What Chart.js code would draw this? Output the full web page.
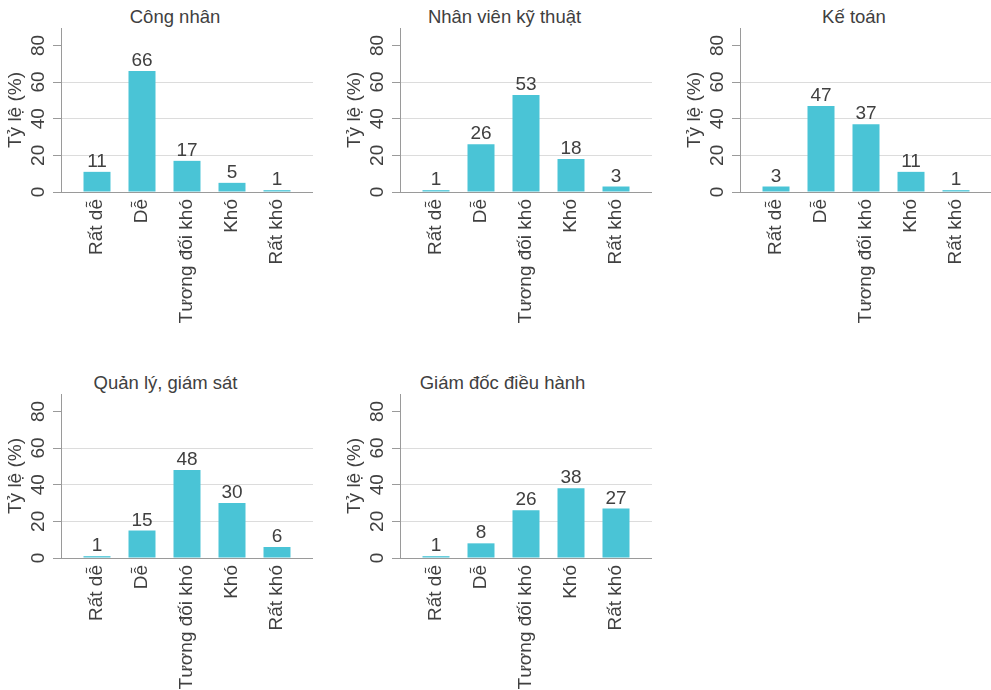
<!DOCTYPE html>
<html>
<head>
<meta charset="utf-8">
<script src="https://cdn.jsdelivr.net/npm/chart.js@4.4.1/dist/chart.umd.min.js"></script>
<style>
  html, body { margin: 0; padding: 0; background: #ffffff; width: 991px; height: 690px; overflow: hidden; }
  .panel { position: absolute; width: 313px; height: 340px; }
  .ptitle { position: absolute; font-family: "Liberation Sans", Arial, sans-serif; font-size: 18.5px; line-height: 18px;
            color: #404040; white-space: nowrap; transform: translateX(-50%); }
</style>
</head>
<body>
<script>
// ---- data ----
const categories = ['Rất dễ', 'Dễ', 'Tương đối khó', 'Khó', 'Rất khó'];
const panelTitles = ['Công nhân', 'Nhân viên kỹ thuật', 'Kế toán', 'Quản lý, giám sát', 'Giám đốc điều hành'];
const congNhan = [11, 66, 17, 5, 1];
const nhanVienKyThuat = [1, 26, 53, 18, 3];
const keToan = [3, 47, 37, 11, 1];
const quanLyGiamSat = [1, 15, 48, 30, 6];
const giamDocDieuHanh = [1, 8, 26, 38, 27];
const yTicks = [0, 20, 40, 60, 80];
const yAxisTitle = 'Tỷ lệ (%)';

// ---- style / layout ----
const FONT = '"Liberation Sans", Arial, sans-serif';
const TEXT = '#404040';
const AXIS = '#9a9a9a';
const GRID = '#dcdcdc';
const BAR = '#4AC4D6';
const FS = 19;

const seriesList = [congNhan, nhanVienKyThuat, keToan, quanLyGiamSat, giamDocDieuHanh];
const layout = [
  { left: 0,   top: 0,   titleX: 175,   titleTop: 8 },
  { left: 339, top: 0,   titleX: 504.5, titleTop: 8 },
  { left: 679, top: 0,   titleX: 854,   titleTop: 8 },
  { left: 0,   top: 366, titleX: 165.5, titleTop: 374 },
  { left: 339, top: 366, titleX: 502.5, titleTop: 374 }
];

const valueLabels = {
  id: 'valueLabels',
  afterDatasetsDraw(chart) {
    const ctx = chart.ctx;
    const meta = chart.getDatasetMeta(0);
    const data = chart.data.datasets[0].data;
    ctx.save();
    ctx.font = FS + 'px ' + FONT;
    ctx.fillStyle = TEXT;
    ctx.textAlign = 'center';
    ctx.textBaseline = 'alphabetic';
    meta.data.forEach((el, i) => {
      ctx.fillText(String(data[i].y), el.x, el.y - 5);
    });
    ctx.restore();
  }
};

seriesList.forEach((values, p) => {
  const L = layout[p];
  const t = document.createElement('div');
  t.className = 'ptitle';
  t.style.left = L.titleX + 'px';
  t.style.top = L.titleTop + 'px';
  t.textContent = panelTitles[p];
  document.body.appendChild(t);

  const c = document.createElement('canvas');
  c.className = 'panel';
  c.width = 313; c.height = 340;
  c.style.left = L.left + 'px';
  c.style.top = L.top + 'px';
  document.body.appendChild(c);

  new Chart(c, {
    type: 'bar',
    data: {
      datasets: [{
        data: values.map((v, i) => ({ x: i, y: v })),
        backgroundColor: BAR,
        borderWidth: 0,
        barPercentage: 0.6,
        categoryPercentage: 1
      }]
    },
    options: {
      responsive: false,
      animation: false,
      layout: { padding: { top: 28, left: 0, right: 0, bottom: 0 } },
      plugins: { legend: { display: false }, tooltip: { enabled: false }, title: { display: false } },
      scales: {
        x: {
          type: 'linear', min: -0.8, max: 4.8, offset: false,
          afterBuildTicks: s => { s.ticks = categories.map((c, i) => ({ value: i })); },
          afterFit: s => { s.height = 148; },
          grid: { display: false, drawTicks: false },
          border: { display: true, color: AXIS, width: 1 },
          ticks: {
            autoSkip: false, minRotation: 90, maxRotation: 90, padding: 7, color: TEXT,
            font: { family: FONT, size: FS },
            callback: v => categories[v]
          }
        },
        y: {
          min: 0, max: 89.5,
          afterBuildTicks: s => { s.ticks = yTicks.map(v => ({ value: v })); },
          afterFit: s => { s.width = 61; },
          grid: {
            color: ctx => (ctx.tick && ctx.tick.value > 0 && ctx.tick.value < 80) ? GRID : 'rgba(0,0,0,0)',
            tickColor: AXIS, tickLength: 8, drawTicks: true
          },
          border: { display: true, color: AXIS, width: 1 },
          ticks: {
            minRotation: 90, maxRotation: 90, crossAlign: 'center', padding: 4, color: TEXT,
            font: { family: FONT, size: FS }
          },
          title: {
            display: true, text: yAxisTitle, color: TEXT,
            font: { family: FONT, size: FS }, padding: { top: 4.5, bottom: 0 }
          }
        }
      }
    },
    plugins: [valueLabels]
  });
});
</script>
</body>
</html>
